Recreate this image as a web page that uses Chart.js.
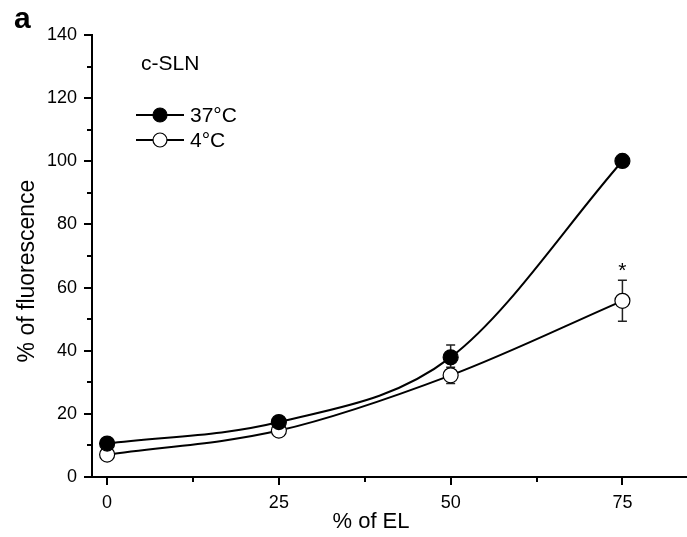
<!DOCTYPE html>
<html>
<head>
<meta charset="utf-8">
<script src="https://cdn.jsdelivr.net/npm/chart.js@4/dist/chart.umd.min.js"></script>
<style>
  html, body { margin: 0; padding: 0; background: #fff; }
  #wrap { width: 687px; height: 537px; }
</style>
</head>
<body>
<div id="wrap"><canvas id="c" width="687" height="537"></canvas></div>
<script>
// ---- data ----
const elPercent = [0, 25, 50, 75];
const warmValues = [10.6, 17.4, 37.9, 100.1];   // 37°C
const warmErrors = [0.8, 0.8, 3.9, 1.0];
const coldValues = [7.1, 14.7, 32.2, 55.8];     // 4°C
const coldErrors = [1.3, 1.0, 2.6, 6.5];
const seriesNames = ['37°C', '4°C'];
const groupName = 'c-SLN';
const panelLetter = 'a';
const xTickValues = [0, 25, 50, 75];
const xMinorTicks = [12.5, 37.5, 62.5];
const yTickValues = [0, 20, 40, 60, 80, 100, 120, 140];
const yMinorTicks = [10, 30, 50, 70, 90, 110, 130];
const starX = [75];
const starY = [67];
const xTitle = '% of EL';
const yTitle = '% of fluorescence';

const FONT = "'Liberation Sans', Arial, sans-serif";

function toPoints(xs, ys) { return xs.map((x, i) => ({ x: x, y: ys[i] })); }

const errorBarPlugin = {
  id: 'errorBars',
  beforeDatasetsDraw(chart) {
    const ctx = chart.ctx;
    const xs = chart.scales.x, ys = chart.scales.y;
    const sets = [[warmValues, warmErrors], [coldValues, coldErrors]];
    ctx.save();
    ctx.strokeStyle = '#222';
    ctx.lineWidth = 1.5;
    sets.forEach(([vals, errs]) => {
      vals.forEach((v, i) => {
        const px = xs.getPixelForValue(elPercent[i]);
        const top = ys.getPixelForValue(v + errs[i]);
        const bot = ys.getPixelForValue(v - errs[i]);
        ctx.beginPath();
        ctx.moveTo(px, top); ctx.lineTo(px, bot);
        ctx.moveTo(px - 4.5, top); ctx.lineTo(px + 4.5, top);
        ctx.moveTo(px - 4.5, bot); ctx.lineTo(px + 4.5, bot);
        ctx.stroke();
      });
    });
    ctx.restore();
  },
  afterDraw(chart) {
    const ctx = chart.ctx;
    const xs = chart.scales.x, ys = chart.scales.y;
    const area = chart.chartArea;
    ctx.save();
    ctx.strokeStyle = '#000';
    ctx.lineWidth = 2;
    // minor ticks
    ctx.beginPath();
    yMinorTicks.forEach(v => {
      const py = Math.round(ys.getPixelForValue(v));
      ctx.moveTo(area.left, py); ctx.lineTo(area.left - 5, py);
    });
    xMinorTicks.forEach(v => {
      const px = Math.round(xs.getPixelForValue(v));
      ctx.moveTo(px, area.bottom); ctx.lineTo(px, area.bottom + 5);
    });
    ctx.stroke();

    // significance star
    ctx.fillStyle = '#000';
    ctx.font = '21px ' + FONT;
    ctx.textAlign = 'center';
    ctx.textBaseline = 'alphabetic';
    starX.forEach((x, i) => {
      ctx.fillText('*', xs.getPixelForValue(x), ys.getPixelForValue(starY[i]) + 12);
    });

    // legend
    ctx.font = '21px ' + FONT;
    ctx.textAlign = 'left';
    ctx.textBaseline = 'middle';
    ctx.fillText(groupName, 141, 64);
    const legendY = [115, 140];
    const fills = ['#000', '#fff'];
    seriesNames.forEach((name, i) => {
      const y = legendY[i];
      ctx.beginPath();
      ctx.lineWidth = 2;
      ctx.moveTo(136, y); ctx.lineTo(184, y);
      ctx.stroke();
      ctx.beginPath();
      ctx.arc(160, y, 7, 0, Math.PI * 2);
      ctx.fillStyle = fills[i];
      ctx.fill();
      ctx.lineWidth = 1.2;
      ctx.stroke();
      ctx.fillStyle = '#000';
      ctx.fillText(name, 190, y + 1);
    });

    // axis titles
    ctx.font = '22px ' + FONT;
    ctx.textAlign = 'center';
    ctx.textBaseline = 'alphabetic';
    ctx.fillText(xTitle, 371, 528);
    ctx.save();
    ctx.translate(28, 271);
    ctx.rotate(-Math.PI / 2);
    ctx.font = '23px ' + FONT;
    ctx.textBaseline = 'middle';
    ctx.fillText(yTitle, 0, 0);
    ctx.restore();

    // panel letter
    ctx.font = "bold 30px 'Liberation Sans Narrow', 'Liberation Sans', Arial, sans-serif";
    ctx.textAlign = 'left';
    ctx.textBaseline = 'alphabetic';
    ctx.fillText(panelLetter, 14, 28);
    ctx.restore();
  }
};

new Chart(document.getElementById('c'), {
  type: 'line',
  data: {
    datasets: [
      {
        label: seriesNames[0],
        data: toPoints(elPercent, warmValues),
        borderColor: '#000',
        borderWidth: 2,
        backgroundColor: '#000',
        pointBackgroundColor: '#000',
        pointBorderColor: '#000',
        pointBorderWidth: 1.2,
        pointRadius: 7.5,
        cubicInterpolationMode: 'monotone',
        fill: false
      },
      {
        label: seriesNames[1],
        data: toPoints(elPercent, coldValues),
        borderColor: '#000',
        borderWidth: 2,
        backgroundColor: '#fff',
        pointBackgroundColor: '#fff',
        pointBorderColor: '#000',
        pointBorderWidth: 1.2,
        pointRadius: 7.5,
        cubicInterpolationMode: 'monotone',
        fill: false
      }
    ]
  },
  options: {
    responsive: false,
    animation: false,
    events: [],
    layout: { autoPadding: false, padding: { top: 35, left: 0, right: 0, bottom: 0 } },
    plugins: { legend: { display: false }, tooltip: { enabled: false }, title: { display: false } },
    scales: {
      x: {
        type: 'linear',
        min: -2.2,
        max: 84.4,
        afterBuildTicks: s => { s.ticks = xTickValues.map(v => ({ value: v })); },
        afterFit: s => { s.height = 60; s.paddingLeft = 0; s.paddingRight = 0; },
        grid: { drawOnChartArea: false, drawTicks: true, tickLength: 8, color: '#000', lineWidth: 2 },
        border: { color: '#000', width: 2 },
        ticks: { color: '#000', font: { family: FONT, size: 18 }, padding: 7, maxRotation: 0, autoSkip: false }
      },
      y: {
        type: 'linear',
        min: 0,
        max: 140,
        afterBuildTicks: s => { s.ticks = yTickValues.map(v => ({ value: v })); },
        afterFit: s => { s.width = 92; s.paddingTop = 0; s.paddingBottom = 0; },
        grid: { drawOnChartArea: false, drawTicks: true, tickLength: 8, color: '#000', lineWidth: 2 },
        border: { color: '#000', width: 2 },
        ticks: { color: '#000', font: { family: FONT, size: 18 }, padding: 7, autoSkip: false }
      }
    }
  },
  plugins: [errorBarPlugin]
});
</script>
</body>
</html>
